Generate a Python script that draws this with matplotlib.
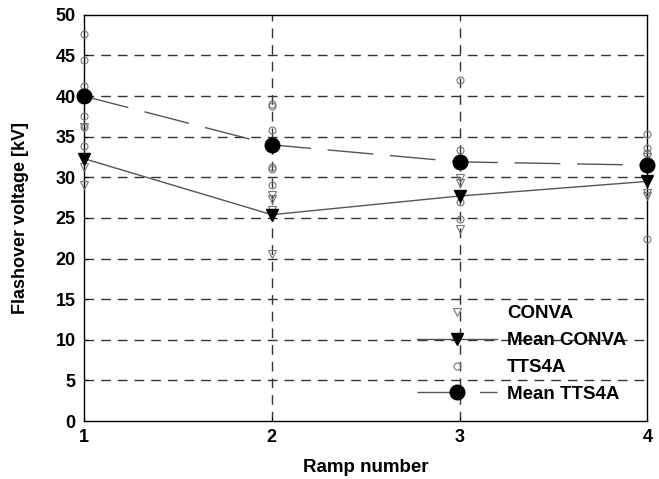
import matplotlib
matplotlib.use('Agg')
import matplotlib.pyplot as plt

plt.rcParams['font.family'] = ['Liberation Sans', 'DejaVu Sans']
plt.rcParams['font.weight'] = 'bold'

ramps = [1, 2, 3, 4]

# individual measurements per ramp
conva = [
    [36.2, 32.5, 31.3, 29.0],
    [27.8, 27.3, 26.0, 20.6],
    [29.9, 29.3, 28.0, 23.6],
    [32.5, 28.1, 27.7],
]
tts4a = [
    [47.7, 44.5, 41.2, 37.5, 36.2, 33.9],
    [39.0, 38.8, 35.8, 31.3, 31.0, 29.1],
    [42.0, 33.4, 27.0, 24.9],
    [35.3, 33.6, 33.0, 22.4],
]
mean_conva = [32.3, 25.4, 27.7, 29.5]
mean_tts4a = [40.0, 34.0, 31.9, 31.5]

fig = plt.figure(figsize=(6.59, 4.79), dpi=100)
ax = fig.add_axes([0.1275, 0.121, 0.855, 0.848])

for y in range(5, 50, 5):
    ax.axhline(y, color='#333333', lw=1, dashes=(7, 5), zorder=1)
for x in [2, 3]:
    ax.axvline(x, color='#333333', lw=1, dashes=(7, 5), zorder=1)

cx, cy = [], []
tx, ty = [], []
for r, vals in zip(ramps, conva):
    cx += [r] * len(vals)
    cy += vals
for r, vals in zip(ramps, tts4a):
    tx += [r] * len(vals)
    ty += vals

ax.plot(cx, cy, ls='none', marker='v', ms=5.5, mfc='none', mec='#777777', mew=0.8,
        label='CONVA', clip_on=False, zorder=3)
ax.plot(ramps, mean_conva, color='#555555', lw=1, marker='v', ms=9, mfc='black',
        mec='black', label='Mean CONVA', clip_on=False, zorder=4)
ax.plot(tx, ty, ls='none', marker='o', ms=5, mfc='none', mec='#777777', mew=0.8,
        label='TTS4A', clip_on=False, zorder=3)
ax.plot(ramps, mean_tts4a, color='#555555', lw=1, dashes=(33, 12), marker='o', ms=10.5,
        mfc='black', mec='black', label='Mean TTS4A', clip_on=False, zorder=4)

ax.set_xlim(1, 4)
ax.set_ylim(0, 50)
ax.set_xticks(ramps)
ax.set_yticks(range(0, 51, 5))
ax.tick_params(direction='in', length=3, labelsize=13, pad=6)
for s in ax.spines.values():
    s.set_color('black')
    s.set_linewidth(1)

ax.set_xlabel('Ramp number', fontsize=13.5, fontweight='bold')
ax.set_ylabel('Flashover voltage [kV]', fontsize=13, fontweight='bold')
ax.xaxis.set_label_coords(0.5, -0.093)
ax.yaxis.set_label_coords(-0.098, 0.5)

ax.legend(loc='upper left', bbox_to_anchor=(0.591, 0.285), frameon=False,
          fontsize=13.5, handlelength=4.27, handletextpad=0.53, borderpad=0,
          borderaxespad=0, labelspacing=0.52)

fig.savefig('out.png', dpi=100)
